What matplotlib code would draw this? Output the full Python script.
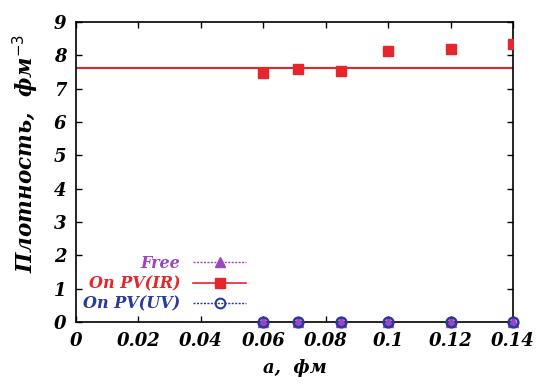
import matplotlib
matplotlib.use("Agg")
import matplotlib.pyplot as plt
from matplotlib.lines import Line2D

a_vals = [0.06, 0.071, 0.085, 0.1, 0.12, 0.14]
ir_vals = [7.48, 7.58, 7.53, 8.13, 8.18, 8.35]
free_vals = [0.0, 0.0, 0.0, 0.0, 0.0, 0.0]
uv_vals = [0.0, 0.0, 0.0, 0.0, 0.0, 0.0]
fit_level = 7.61
x_ticks = [0, 0.02, 0.04, 0.06, 0.08, 0.1, 0.12, 0.14]
x_labels = ["0", "0.02", "0.04", "0.06", "0.08", "0.1", "0.12", "0.14"]
y_ticks = [0, 1, 2, 3, 4, 5, 6, 7, 8, 9]

c_free = "#9b45c0"
c_ir = "#e5262a"
c_uv = "#283a9c"

plt.rcParams['font.family'] = ['DejaVu Serif']
fig = plt.figure(figsize=(5.39, 3.85), dpi=100)
ax = fig.add_axes([0.141, 0.164, 0.811, 0.779])

ax.plot([0, 0.14], [fit_level, fit_level], color=c_ir, lw=1.5, zorder=2)
ax.plot(a_vals, ir_vals, 's', color=c_ir, ms=7.5, zorder=3)
ax.plot(a_vals, free_vals, '^', color=c_free, ms=7, zorder=4, clip_on=False)
ax.plot(a_vals, uv_vals, 'o', mfc='none', mec=c_uv, mew=1.8, ms=7, zorder=5, clip_on=False)

ax.set_xlim(0, 0.14)
ax.set_ylim(0, 9)
ax.set_xticks(x_ticks)
ax.set_xticklabels(x_labels)
ax.set_yticks(y_ticks)
ax.tick_params(direction='in', top=True, right=True, length=4, width=1,
               labelsize=13, pad=7)
for lab in ax.get_xticklabels() + ax.get_yticklabels():
    lab.set_fontweight('bold')
    lab.set_fontstyle('italic')
for s in ax.spines.values():
    s.set_linewidth(1.2)

ax.set_xlabel("a,  фм", fontsize=13, fontweight='bold', fontstyle='italic', labelpad=7)
ax.set_ylabel("Плотность,  фм$^{-3}$", fontsize=15.5, fontweight='bold', fontstyle='italic')
ax.yaxis.set_label_coords(-0.08, 0.56)

handles = [
    Line2D([], [], color=c_free, ls=(0, (1.5, 1)), lw=1, marker='^', ms=7, mfc=c_free, mec=c_free),
    Line2D([], [], color=c_ir, ls='-', lw=1.2, marker='s', ms=7, mfc=c_ir, mec=c_ir),
    Line2D([], [], color=c_uv, ls=(0, (1.5, 1)), lw=1, marker='o', ms=7, mfc='none', mec=c_uv, mew=1.5),
]
labels = ["Free", "On PV(IR)", "On PV(UV)"]
leg = ax.legend(handles, labels, loc='lower left', bbox_to_anchor=(0.002, 0.01),
                markerfirst=False, frameon=False, handlelength=3.3,
                prop={'size': 11.5, 'weight': 'bold', 'style': 'italic'},
                labelspacing=0.2, handletextpad=0.8, borderaxespad=0)
for t, c in zip(leg.get_texts(), [c_free, c_ir, c_uv]):
    t.set_color(c)

fig.savefig("out.png", dpi=100)
